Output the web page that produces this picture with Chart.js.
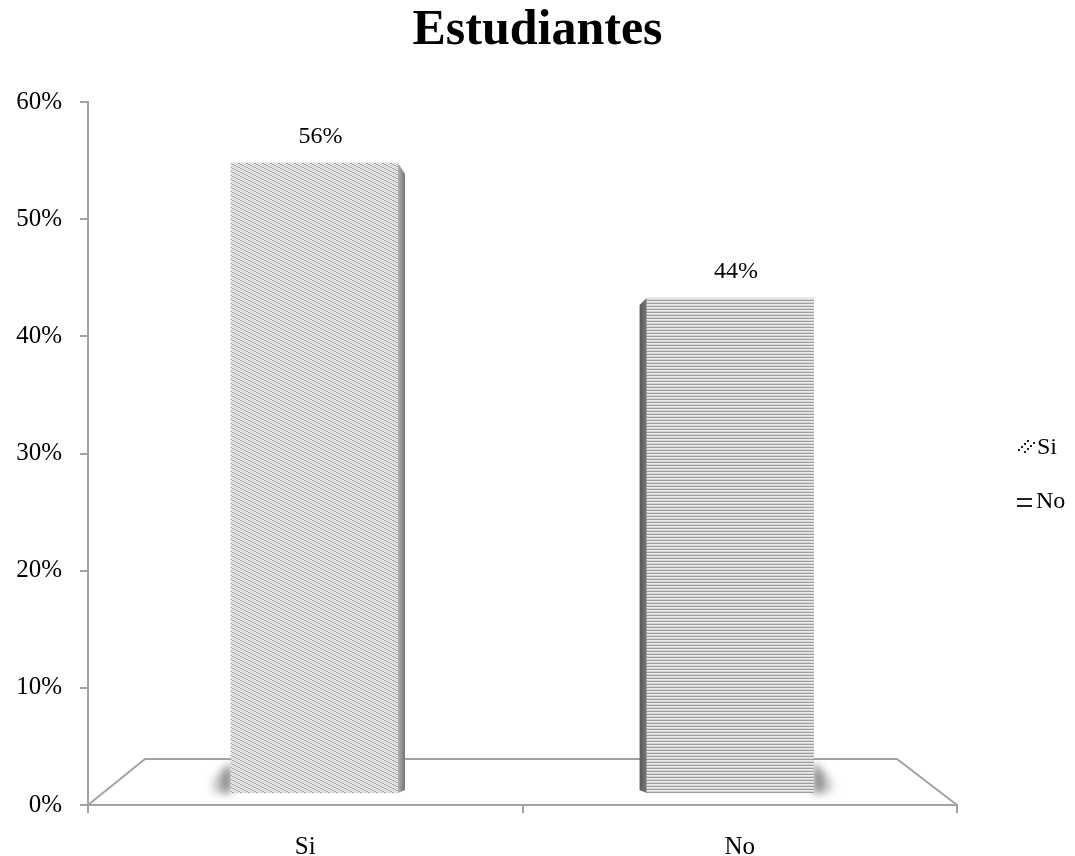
<!DOCTYPE html>
<html>
<head>
<meta charset="utf-8">
<title>Estudiantes</title>
<script src="https://cdn.jsdelivr.net/npm/chart.js@4.4.1/dist/chart.umd.min.js"></script>
<style>
  html, body { margin: 0; padding: 0; background: #fff; }
  #wrap { width: 1075px; height: 856px; }
</style>
</head>
<body>
<div id="wrap"><canvas id="studentsChart"></canvas></div>
<script>
const categories = ["Si", "No"];
const percentages = [56, 44];
const yTicks = [0, 10, 20, 30, 40, 50, 60];

const SERIF = "'Liberation Serif', 'Times New Roman', serif";
const AXIS_GRAY = "#a3a3a3";
const DEPTH_X = 57;   // floor depth, horizontal run of the slanted edges
const DEPTH_Y = 46;   // floor depth, vertical rise
const SIDE_W = 7;     // visible width of a bar's side face

const canvas = document.getElementById("studentsChart");
const ctx = canvas.getContext("2d");

// ── fill patterns ─────────────────────────────────────────────
function makePattern(w, h, draw) {
    const tile = document.createElement("canvas");
    tile.width = w;
    tile.height = h;
    draw(tile.getContext("2d"));
    return ctx.createPattern(tile, "repeat");
}

// fine diagonal hatch for "Si"
const siFill = makePattern(8, 4, t => {
    t.fillStyle = "#ececec";
    t.fillRect(0, 0, 8, 4);
    for (let x = 0; x < 8; x++) {
        t.fillStyle = "#a2a2a2";
        t.fillRect(x, Math.floor(x / 2), 1, 1);
        t.fillStyle = "#d2d2d2";
        t.fillRect(x, (Math.floor(x / 2) + 2) % 4, 1, 1);
    }
});

// horizontal stripes for "No"
const noFill = makePattern(1, 3, t => {
    t.fillStyle = "#9e9e9e"; t.fillRect(0, 0, 1, 1);
    t.fillStyle = "#ebebeb"; t.fillRect(0, 1, 1, 1);
    t.fillStyle = "#d6d6d6"; t.fillRect(0, 2, 1, 1);
});

// ── floor + bar shadows, under the bars ──────────────────────
const floorPlugin = {
    id: "floor3d",
    beforeDatasetsDraw(chart) {
        const { ctx: c, chartArea: a } = chart;
        c.save();
        c.strokeStyle = AXIS_GRAY;
        c.lineWidth = 2;
        c.beginPath();
        c.moveTo(a.left, a.bottom);
        c.lineTo(a.left + DEPTH_X, a.bottom - DEPTH_Y);
        c.lineTo(a.right - 60, a.bottom - DEPTH_Y);
        c.lineTo(a.right, a.bottom);
        c.stroke();

        // soft shadow at the foot of each bar, on its outer side
        const mid = (a.left + a.right) / 2;
        chart.getDatasetMeta(0).data.forEach(bar => {
            const half = bar.width / 2;
            const outerLeft = bar.x < mid;
            const edge = outerLeft ? bar.x - half : bar.x + half;
            const x0 = outerLeft ? edge - 22 : edge + 22;
            c.save();
            c.filter = "blur(4px)";
            const g = c.createLinearGradient(x0, 0, edge, 0);
            g.addColorStop(0, "rgba(120,120,120,0)");
            g.addColorStop(1, "rgba(85,85,85,0.95)");
            c.fillStyle = g;
            c.beginPath();
            c.moveTo(edge, bar.base - 30);
            c.lineTo(edge, bar.base);
            c.lineTo(x0, bar.base);
            c.lineTo(x0, bar.base - 10);
            c.closePath();
            c.fill();
            c.restore();
        });
        c.restore();
    }
};

// ── side faces and value labels, over the bars ───────────────
const barDepthPlugin = {
    id: "barDepth",
    afterDatasetsDraw(chart) {
        const { ctx: c, chartArea: a } = chart;
        const mid = (a.left + a.right) / 2;
        chart.getDatasetMeta(0).data.forEach((bar, i) => {
            const half = bar.width / 2;
            const top = bar.y;
            const bottom = bar.base;
            c.save();
            if (bar.x < mid) {
                // right-hand side face
                const x = bar.x + half;
                const g = c.createLinearGradient(x, 0, x + SIDE_W, 0);
                g.addColorStop(0, "#b0b0b0");
                g.addColorStop(1, "#747474");
                c.fillStyle = g;
                c.beginPath();
                c.moveTo(x, top);
                c.lineTo(x + SIDE_W, top + 11);
                c.lineTo(x + SIDE_W, bottom - 3);
                c.lineTo(x, bottom);
                c.closePath();
                c.fill();
            } else {
                // left-hand side face
                const x = bar.x - half;
                const g = c.createLinearGradient(x - SIDE_W, 0, x, 0);
                g.addColorStop(0, "#5a5a5a");
                g.addColorStop(1, "#777777");
                c.fillStyle = g;
                c.beginPath();
                c.moveTo(x, top);
                c.lineTo(x - SIDE_W, top + 7);
                c.lineTo(x - SIDE_W, bottom - 3);
                c.lineTo(x, bottom);
                c.closePath();
                c.fill();
            }

            c.fillStyle = "#000";
            c.font = "24px " + SERIF;
            c.textAlign = "center";
            c.textBaseline = "middle";
            c.fillText(percentages[i] + "%", bar.x + 6, top - 26);
            c.restore();
        });
    }
};

// ── legend on the right ──────────────────────────────────────
const legendPlugin = {
    id: "sideLegend",
    afterDraw(chart) {
        const c = chart.ctx;
        c.save();
        c.fillStyle = "#222";
        // dotted double diagonal for "Si"
        for (let k = 0; k < 4; k++) {
            c.fillRect(1018 + k * 3, 449 - k * 3, 2, 2);
            c.fillRect(1024 + k * 3, 451 - k * 3, 2, 2);
        }
        // double bar for "No"
        c.fillRect(1017, 498, 15, 2);
        c.fillRect(1017, 505, 15, 2);

        c.font = "24px " + SERIF;
        c.fillStyle = "#000";
        c.textAlign = "left";
        c.textBaseline = "middle";
        c.fillText(categories[0], 1037, 448);
        c.fillText(categories[1], 1036, 502);
        c.restore();
    }
};

const tickFont = { family: SERIF, size: 25 };

new Chart(ctx, {
    type: "bar",
    data: {
        labels: categories,
        datasets: [{
            data: percentages.map((v, i) => ({ x: i, y: v })),
            xAxisID: "xBars",
            yAxisID: "yBars",
            backgroundColor: [siFill, noFill],
            borderWidth: 0,
            barThickness: 167
        }]
    },
    options: {
        responsive: true,
        maintainAspectRatio: false,
        animation: false,
        layout: { padding: 0 },
        plugins: {
            legend: { display: false },
            tooltip: { enabled: false },
            title: {
                display: true,
                text: "Estudiantes",
                color: "#000",
                font: { family: SERIF, size: 50, weight: "bold" },
                padding: { top: 1, bottom: 41 }
            }
        },
        scales: {
            x: {
                type: "category",
                position: "bottom",
                offset: true,
                grid: {
                    offset: true,
                    drawOnChartArea: false,
                    drawTicks: true,
                    tickLength: 8,
                    color: AXIS_GRAY,
                    lineWidth: 2
                },
                border: { color: AXIS_GRAY, width: 2 },
                ticks: { font: tickFont, color: "#000", padding: 19 },
                afterFit: s => { s.height = 51; }
            },
            y: {
                type: "linear",
                position: "left",
                min: 0,
                max: 60,
                afterBuildTicks: s => { s.ticks = yTicks.map(v => ({ value: v })); },
                grid: {
                    drawOnChartArea: false,
                    drawTicks: true,
                    tickLength: 8,
                    color: AXIS_GRAY,
                    lineWidth: 2
                },
                border: { color: AXIS_GRAY, width: 2 },
                ticks: { font: tickFont, color: "#000", padding: 18, callback: v => v + "%" },
                afterFit: s => { s.width = 88; }
            },
            // empty strip on the right that holds the legend
            legendSpace: {
                type: "linear",
                position: "right",
                grid: { display: false },
                border: { display: false },
                ticks: { display: false },
                afterFit: s => { s.width = 118; }
            },
            // bars stand inside the 3-D box, so they use a foreshortened copy of the axes
            xBars: { type: "linear", display: false, offset: false, min: -0.545, max: 1.546 },
            yBars: { type: "linear", display: false, min: -1.067, max: 61.42 }
        }
    },
    plugins: [floorPlugin, barDepthPlugin, legendPlugin]
});
</script>
</body>
</html>
